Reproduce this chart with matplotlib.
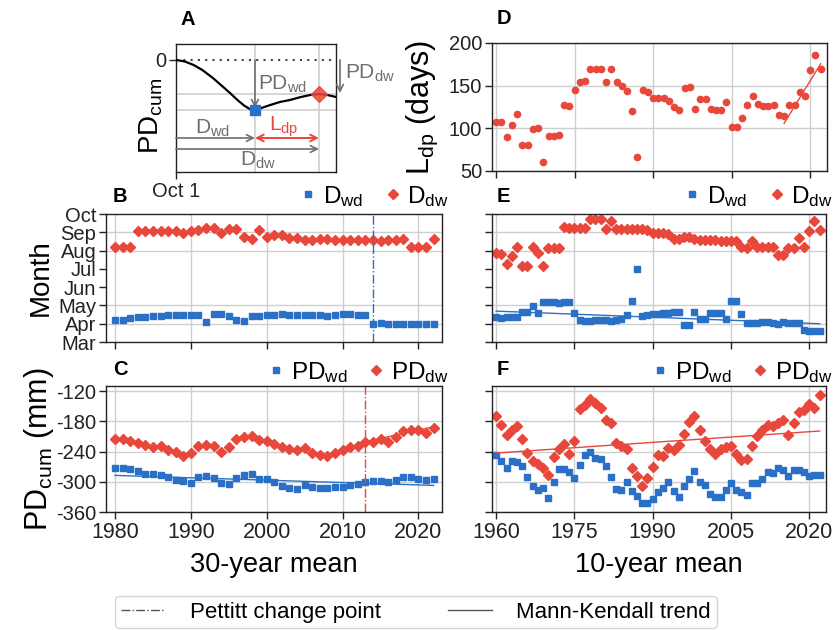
import matplotlib
matplotlib.use("Agg")
import matplotlib.pyplot as plt
from matplotlib.lines import Line2D
import numpy as np

plt.rcParams['font.family'] = ['Liberation Sans', 'DejaVu Sans']
plt.rcParams['mathtext.default'] = 'regular'

RED = '#e8473b'
BLUE = '#2a70c6'
GRAY = '#6e6e6e'
GRID = '#cfcfcf'

# ---- conceptual curve (panel A): days since Oct 1 vs cumulative PD
a_day = [0, 20, 40, 60, 84, 105, 123, 140, 155, 168, 180, 195, 215, 237, 260, 285, 306, 326, 345, 365]
a_pd = [0, -1.5, -5, -10, -18, -26, -33, -40, -45.5, -49, -50, -48, -45, -42, -40, -37, -35, -34, -35, -37]
a_dwd, a_pdwd = 180, -50
a_ddw, a_pddw = 326, -34

# ---- 30-year moving means, 1980-2022
yrs30 = np.arange(1980, 2023)
b_dwd = [4.22, 4.22, 4.31, 4.35, 4.36, 4.42, 4.40, 4.47, 4.47, 4.49,
         4.47, 4.49, 4.11, 4.51, 4.51, 4.45, 4.18, 4.16, 4.42, 4.40,
         4.47, 4.49, 4.51, 4.49, 4.47, 4.47, 4.49, 4.47, 4.45, 4.47,
         4.51, 4.51, 4.49, 4.47, 4.00, 4.04, 4.00, 4.00, 4.00, 4.00,
         4.00, 3.98, 3.98]
b_ddw = [8.20, 8.20, 8.20, 9.09, 9.07, 9.05, 9.07, 9.07, 9.07, 8.98,
         9.07, 9.13, 9.22, 9.24, 8.98, 9.20, 9.18, 8.73, 8.65, 9.13,
         8.76, 8.87, 8.84, 8.69, 8.69, 8.56, 8.60, 8.64, 8.62, 8.56,
         8.58, 8.58, 8.58, 8.60, 8.56, 8.55, 8.56, 8.60, 8.62, 8.22,
         8.20, 8.20, 8.62]
c_pdwd = [-273.5, -273.5, -275, -279.4, -284.7, -284, -287.4, -290.7, -296.7, -298.6,
          -302, -291.3, -288.7, -292, -302, -305, -293, -287.4, -285.4, -295.3,
          -295.3, -301, -308, -312.5, -313.8, -307, -310.5, -311.8, -312.5, -310,
          -310, -307, -304.5, -300, -298, -299.4, -301, -296, -291.3, -291.3,
          -295.3, -296.6, -294.6]
c_pddw = [-215, -215, -218.6, -222.5, -227, -232, -230, -236, -241, -248,
          -242, -229, -228, -230, -240, -230.5, -216, -211, -209, -217,
          -220, -224.5, -230.5, -234.5, -236.5, -234, -243.7, -246, -249, -242,
          -237.7, -232, -229, -222, -221, -215, -222, -210.6, -199, -197.4,
          -197.4, -202.7, -192.8]
b_pettitt = 2014
c_pettitt = 2013
# trend lines: (start year, end year, start value, end value)
c_wd_trend = (1980, 2022, -287.4, -307.2)
c_dw_trend = (2013, 2022, -220.5, -190.8)

# ---- 10-year moving means, 1960-2022
yrs10 = np.arange(1960, 2023)
d_ldp = [107, 107, 90, 104, 117, 80, 80, 99, 100, 60,
         91, 91, 92, 127, 126, 145, 154, 155, 170, 169,
         169, 154, 169, 154, 150, 144, 120, 66.5, 145, 143,
         136, 136, 135, 132, 125, 121, 147, 148, 123, 134,
         134, 123, 122, 122, 131, 101, 101, 112, 127, 138,
         128, 126, 126, 127, 116, 114, 127, 127, 143, 138,
         168, 185.5, 170]
e_dwd = [4.36, 4.33, 4.36, 4.36, 4.36, 4.62, 4.62, 4.98, 4.60, 5.18,
         5.20, 5.18, 5.16, 5.18, 5.18, 4.56, 4.20, 4.16, 4.15, 4.18,
         4.18, 4.18, 4.16, 4.22, 4.27, 4.49, 5.24, 6.98, 4.42, 4.49,
         4.51, 4.51, 4.56, 4.60, 4.62, 4.65, 3.95, 3.95, 4.62, 4.25,
         4.25, 4.60, 4.60, 4.60, 4.25, 5.25, 5.24, 4.55, 4.02, 4.02,
         4.02, 4.09, 4.11, 4.02, 3.98, 4.07, 4.04, 4.04, 4.04, 3.67,
         3.60, 3.60, 3.60]
e_ddw = [7.85, 7.82, 7.25, 7.73, 8.18, 7.18, 7.18, 8.18, 7.85, 7.13,
         8.13, 8.13, 8.13, 9.31, 9.25, 9.25, 9.22, 9.22, 9.71, 9.71,
         9.71, 9.16, 9.62, 9.18, 9.16, 9.16, 9.16, 9.16, 9.16, 9.13,
         8.95, 8.95, 8.95, 8.91, 8.65, 8.62, 8.75, 8.75, 8.65, 8.60,
         8.60, 8.60, 8.58, 8.55, 8.55, 8.55, 8.55, 8.18, 8.16, 8.55,
         8.18, 8.18, 8.18, 8.18, 7.78, 7.76, 8.16, 8.16, 8.71, 8.18,
         9.07, 9.64, 9.13]
f_pdwd = [-247.6, -258.8, -272, -258, -261.5, -268, -291.2, -307.7, -315.7, -311.7,
          -332.2, -299.8, -274.7, -274.7, -280.6, -291.9, -266, -247.6, -241.6, -252.2,
          -254.8, -268, -290, -315, -317, -299.8, -318.3, -328.2, -341.4, -341.4,
          -334.8, -321, -313, -299.8, -317.6, -330.9, -308.4, -294.5, -279.3, -299.8,
          -306.4, -324.3, -330.9, -330.2, -315.7, -301.8, -315.7, -321, -326.3, -302.4,
          -302.4, -295.2, -280.6, -282.7, -273.4, -276, -288, -276.7, -276.7, -281.3,
          -288, -287.4, -286.7]
f_pddw = [-170, -186.8, -206.6, -198, -190, -216, -242.3, -258.8, -264, -272.7,
          -287, -251.5, -235, -225, -245, -219, -155, -148.4, -135.2, -143,
          -153.7, -177, -182.8, -222.5, -229.7, -235, -272.7, -289, -307.7, -292.5,
          -270.7, -247.6, -249, -232.4, -236.3, -227, -205.3, -182, -170, -198,
          -220, -235, -244.3, -235.7, -231, -228.4, -245, -256.8, -254.2, -228.4,
          -210, -198, -188, -189.4, -183.5, -177, -208, -183.5, -161.6, -157,
          -145, -153, -127.3]
d_trend = (2015, 2022, 105.7, 175.6)
e_wd_trend = (1960, 2022, 4.69, 4.00)
f_dw_trend = (1960, 2022, -243, -199.3)

months = ['Mar', 'Apr', 'May', 'Jun', 'Jul', 'Aug', 'Sep', 'Oct']
month_pos = [3, 4, 5, 6, 7, 8, 9, 10]
month_grid = [4, 5, 8, 9]

TICK = 14.5
YLAB = 22
XLAB = 19.5
LEG = 17.5

fig = plt.figure(figsize=(8.37, 6.3), dpi=100)
axA = fig.add_axes([0.2103, 0.727, 0.1912, 0.2032])
axD = fig.add_axes([0.5878, 0.7286, 0.4002, 0.2032])
axB = fig.add_axes([0.1266, 0.4571, 0.4014, 0.2032])
axE = fig.add_axes([0.5878, 0.4571, 0.3990, 0.2032])
axC = fig.add_axes([0.1266, 0.1873, 0.4014, 0.2000])
axF = fig.add_axes([0.5878, 0.1873, 0.3990, 0.2000])


def style(ax):
    for s in ax.spines.values():
        s.set_color('#222222')
        s.set_linewidth(1.0)
    ax.tick_params(direction='out', length=5, width=1, labelsize=TICK, colors='#222222', pad=2)
    ax.set_axisbelow(True)


def panel_letter(ax, letter, x, y):
    ax.text(x, y, letter, transform=ax.transAxes, fontsize=14.5, fontweight='bold',
            ha='left', va='center')


def trend(ax, t, color):
    ax.plot([t[0], t[1]], [t[2], t[3]], color=color, lw=1.0)


def top_legend(ax, y):
    ax.legend(loc='center right', bbox_to_anchor=(1.02, y), ncol=2, frameon=False,
              fontsize=LEG, handlelength=0.6, handletextpad=0.3, columnspacing=0.9,
              borderaxespad=0, borderpad=0)


# ---- A: schematic
style(axA)
axA.plot(a_day, a_pd, color='black', lw=1.6, zorder=3)
axA.axhline(0, color='#444444', ls=(0, (1, 2.5)), lw=1.5)
for v in [a_dwd, a_ddw]:
    axA.axvline(v, color=GRID, lw=1.2, zorder=0)
for v in [a_pdwd, a_pddw]:
    axA.axhline(v, color=GRID, lw=1.2, zorder=0)
axA.plot(a_dwd, a_pdwd, 's', color=BLUE, ms=7, zorder=4)
axA.plot(a_ddw, a_pddw, 'D', color=RED, ms=8, alpha=0.85, zorder=4)
arr = dict(arrowstyle='->', color=GRAY, lw=1.2, mutation_scale=12, shrinkA=0, shrinkB=0)
axA.annotate('', xy=(a_dwd, a_pdwd + 2), xytext=(a_dwd, 0), arrowprops=arr)
axA.annotate('', xy=(374, a_pddw + 1), xytext=(374, 0), arrowprops=arr, annotation_clip=False)
axA.annotate('', xy=(a_dwd, -78), xytext=(0, -78), arrowprops=arr)
axA.annotate('', xy=(a_ddw, -89), xytext=(0, -89), arrowprops=arr)
axA.annotate('', xy=(a_ddw, -78), xytext=(a_dwd, -78),
             arrowprops=dict(arrowstyle='<->', color=RED, lw=1.4, mutation_scale=12, shrinkA=0, shrinkB=0))
axA.text(188, -24, 'PD$_{wd}$', color=GRAY, fontsize=15, ha='left', va='center')
axA.text(385, -13, 'PD$_{dw}$', color=GRAY, fontsize=15, ha='left', va='center')
axA.text(84, -68, 'D$_{wd}$', color=GRAY, fontsize=15, ha='center', va='center')
axA.text(245, -67, 'L$_{dp}$', color=RED, fontsize=15, ha='center', va='center')
axA.text(188, -100, 'D$_{dw}$', color=GRAY, fontsize=15, ha='center', va='center')
axA.set_xlim(0, 365)
axA.set_ylim(-112, 16)
axA.set_xticks([0])
axA.set_xticklabels(['Oct 1'])
axA.set_yticks([0])
axA.set_yticklabels(['0'])
axA.set_ylabel('PD$_{cum}$', fontsize=20)
axA.yaxis.set_label_coords(-0.07, 0.44)
panel_letter(axA, 'A', 0.03, 1.19)

# ---- D: length of depletion period
style(axD)
axD.grid(True, color=GRID, lw=1)
axD.plot(yrs10, d_ldp, 'o', color=RED, ms=4.5)
trend(axD, d_trend, RED)
axD.set_xlim(1959.2, 2023.2)
axD.set_ylim(50, 200)
axD.set_yticks([50, 100, 150, 200])
axD.set_xticks([1960, 1975, 1990, 2005, 2020])
axD.set_xticklabels([])
axD.set_ylabel('L$_{dp}$ (days)', fontsize=YLAB)
axD.yaxis.set_label_coords(-0.155, 0.5)
panel_letter(axD, 'D', 0.015, 1.19)

# ---- B / E: timing of turning points
for ax, yrs, wd, dw, xl, xt in [(axB, yrs30, b_dwd, b_ddw, (1978.8, 2023.1), [1980, 1990, 2000, 2010, 2020]),
                                (axE, yrs10, e_dwd, e_ddw, (1959.2, 2023.2), [1960, 1975, 1990, 2005, 2020])]:
    style(ax)
    ax.xaxis.grid(True, color=GRID, lw=1)
    for m in month_grid:
        ax.axhline(m, color=GRID, lw=1, zorder=0)
    ax.plot(yrs, wd, 's', color=BLUE, ms=4.5, label='D$_{wd}$')
    ax.plot(yrs, dw, 'D', color=RED, ms=5, label='D$_{dw}$')
    ax.set_xlim(*xl)
    ax.set_ylim(3, 10)
    ax.set_xticks(xt)
    ax.set_xticklabels([])
    ax.set_yticks(month_pos)
    top_legend(ax, 1.14)

axB.set_yticklabels(months)
axE.set_yticklabels([])
axB.axvline(b_pettitt, color=BLUE, ls='-.', lw=1.0)
trend(axE, e_wd_trend, BLUE)
axB.set_ylabel('Month', fontsize=20)
axB.yaxis.set_label_coords(-0.155, 0.5)
panel_letter(axB, 'B', 0.02, 1.14)
panel_letter(axE, 'E', 0.015, 1.14)

# ---- C / F: cumulative PD at the turning points
for ax, yrs, wd, dw, xl, xt in [(axC, yrs30, c_pdwd, c_pddw, (1978.8, 2023.1), [1980, 1990, 2000, 2010, 2020]),
                                (axF, yrs10, f_pdwd, f_pddw, (1959.2, 2023.2), [1960, 1975, 1990, 2005, 2020])]:
    style(ax)
    ax.grid(True, color=GRID, lw=1)
    ax.plot(yrs, wd, 's', color=BLUE, ms=4.5, label='PD$_{wd}$')
    ax.plot(yrs, dw, 'D', color=RED, ms=5, label='PD$_{dw}$')
    ax.set_xlim(*xl)
    ax.set_ylim(-360, -110)
    ax.set_yticks([-360, -300, -240, -180, -120])
    ax.set_xticks(xt)
    ax.tick_params(axis='x', labelsize=15.5)
    top_legend(ax, 1.11)

axC.set_yticklabels(['-360', '-300', '-240', '-180', '-120'])
axF.set_yticklabels([])
axC.axvline(c_pettitt, color=RED, ls='-.', lw=1.0)
trend(axC, c_wd_trend, BLUE)
trend(axC, c_dw_trend, RED)
trend(axF, f_dw_trend, RED)
axC.set_ylabel('PD$_{cum}$ (mm)', fontsize=YLAB)
axC.yaxis.set_label_coords(-0.15, 0.5)
axC.set_xlabel('30-year mean', fontsize=XLAB)
axF.set_xlabel('10-year mean', fontsize=XLAB)
axC.xaxis.set_label_coords(0.5, -0.32)
axF.xaxis.set_label_coords(0.5, -0.32)
panel_letter(axC, 'C', 0.02, 1.13)
panel_letter(axF, 'F', 0.015, 1.13)

handles = [Line2D([], [], color='#555555', ls='-.', lw=1.0),
           Line2D([], [], color='#555555', ls='-', lw=1.0)]
fig.legend(handles, ['Pettitt change point', 'Mann-Kendall trend'], loc='upper center',
           bbox_to_anchor=(0.497, 1 - 596 / 630), ncol=2, fontsize=16, columnspacing=3.0,
           handlelength=2.0, handletextpad=1.1, frameon=True, edgecolor='#cccccc',
           fancybox=True, borderaxespad=0, borderpad=0.25)

fig.savefig('out.png', dpi=100)
